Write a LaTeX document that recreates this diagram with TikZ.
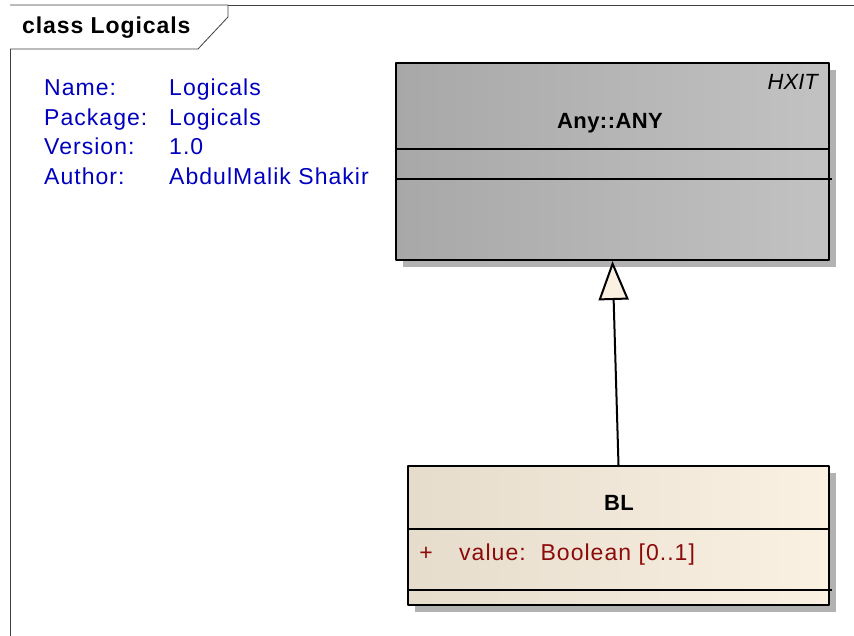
\documentclass[tikz,border=0pt]{standalone}
\usepackage{fontspec}
\setmainfont{Liberation Sans}
\usetikzlibrary{arrows.meta,shadows,calc}
\definecolor{eablue}{RGB}{0,0,190}
\definecolor{eared}{RGB}{140,10,10}
\definecolor{anydark}{RGB}{168,168,168}
\definecolor{anylight}{RGB}{194,194,194}
\definecolor{bldark}{RGB}{230,220,204}
\definecolor{bllight}{RGB}{251,241,227}
\definecolor{shadowgray}{RGB}{178,178,178}
\begin{document}
\begin{tikzpicture}[x=1pt,y=-1pt,line join=round,
		classbox/.style={draw=black,line width=2pt,anchor=north west,inner sep=0pt,
			drop shadow={shadow xshift=7pt,shadow yshift=-7pt,fill=shadowgray,opacity=1}},
		info/.style={anchor=base west,inner sep=0pt,text=eablue,
			font=\fontsize{23}{28}\selectfont\addfontfeature{LetterSpace=4.5}},
		boldname/.style={anchor=base,inner sep=0pt,font=\fontsize{22}{26}\selectfont\bfseries\addfontfeature{LetterSpace=2}},
		attr/.style={anchor=base west,inner sep=0pt,text=eared,
			font=\fontsize{23}{28}\selectfont\addfontfeature{LetterSpace=4.5}}]
	\useasboundingbox (0,0) rectangle (854,636);
	% diagram frame and tab
	\draw[line width=0.8pt,black!75] (10,636) -- (10,5) -- (854,5);
	\draw[line width=0.8pt,black!75,fill=white] (10,5) -- (228,5) -- (228,17) -- (198,49) -- (10,49);
	\node[anchor=base west,inner sep=0pt,font=\fontsize{23}{28}\selectfont\bfseries\addfontfeature{LetterSpace=4}] (title) at (22,34) {class Logicals};
	% package notes
	\foreach \key/\val [count=\i] in {Name:/Logicals,Package:/Logicals,Version:/1.0,Author:/AbdulMalik Shakir}{
		\node[info] (key\i) at (44,{95.7+29.5*(\i-1)}) {\key};
		\node[info] (val\i) at (169,{95.7+29.5*(\i-1)}) {\val};
	}
	% classes
	\node[classbox,left color=anydark,right color=anylight,minimum width=433pt,minimum height=197pt] (Any) at (395,62) {};
	\draw[line width=2pt] ($(Any.north west)+(0,87)$) -- ($(Any.north east)+(0,87)$);
	\draw[line width=2pt] ($(Any.north west)+(0,117)$) -- ($(Any.north east)+(2,117)$);
	\node[anchor=base east,inner sep=0pt,font=\fontsize{22}{26}\selectfont\itshape] (stereo) at (818,90) {HXIT};
	\node[boldname] (anyname) at (610,129) {Any::ANY};
	\node[classbox,left color=bldark,right color=bllight,minimum width=421pt,minimum height=139pt] (BL) at (407,465) {};
	\draw[line width=2pt] ($(BL.north west)+(0,64)$) -- ($(BL.north east)+(0,64)$);
	\draw[line width=2pt] ($(BL.north west)+(0,125)$) -- ($(BL.north east)+(2,125)$);
	\node[boldname] (blname) at (619,510) {BL};
	\node[attr,anchor=base] (vis) at (426,560) {+};
	\node[attr] (value) at (459,560) {value:\ \ Boolean [0..1]};
	% generalization
	\draw[line width=2pt,-{Triangle[length=39pt,width=30pt,fill=bllight]}] (BL.north) -- (Any.south);
\end{tikzpicture}
\end{document}
